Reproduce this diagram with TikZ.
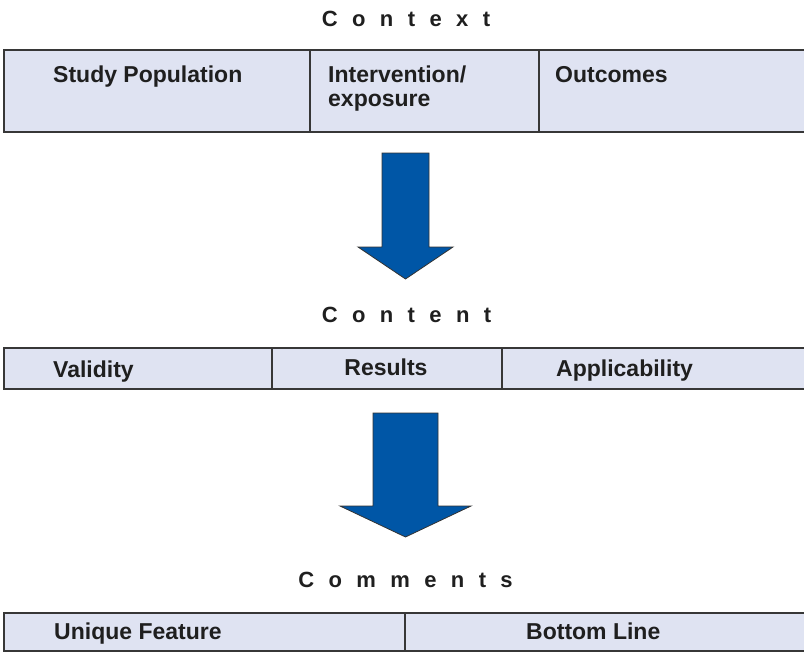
\documentclass[tikz,border=0pt]{standalone}
\usepackage{fontspec}
\setmainfont{Liberation Sans}
\definecolor{cellfill}{RGB}{223,227,242}
\definecolor{cellline}{RGB}{55,55,55}
\definecolor{arrowblue}{RGB}{0,86,166}
\newcommand{\lsp}{\hspace{14.4pt}}
\begin{document}
\begin{tikzpicture}[x=1pt,y=-1pt,
  celltext/.style={inner sep=0pt,font=\fontsize{23}{23}\selectfont\bfseries,text=black!88},
  titletext/.style={inner sep=0pt,font=\fontsize{22}{22}\selectfont\bfseries,text=black!88},
  tableline/.style={draw=cellline,line width=1.4pt},
  bigarrow/.style={fill=arrowblue,draw=black!80,line width=0.8pt,line join=miter}]
\useasboundingbox (0,0) rectangle (804,653);
% ---- Context ----
\node[titletext,anchor=base] (ctxtitle) at (406,26) {C\lsp o\lsp n\lsp t\lsp e\lsp x\lsp t};
\fill[cellfill] (4,50) rectangle (804,132);
\draw[tableline] (804,50) -- (4,50) -- (4,132) -- (804,132);
\draw[tableline] (310,50) -- (310,132);
\draw[tableline] (539,50) -- (539,132);
\node[celltext,anchor=base west] (studypop) at (53,82) {Study Population};
\node[celltext,anchor=base west] (interv) at (328,82) {Intervention/};
\node[celltext,anchor=base west] (expo) at (328,106) {exposure};
\node[celltext,anchor=base west] (outc) at (555,82) {Outcomes};
% ---- Arrow 1 ----
\draw[bigarrow] (382,153) -- (429,153) -- (429,247) -- (453,247) -- (405.5,279) -- (358,247) -- (382,247) -- cycle;
% ---- Content ----
\node[titletext,anchor=base] (cnttitle) at (406.5,322) {C\lsp o\lsp n\lsp t\lsp e\lsp n\lsp t};
\fill[cellfill] (4,348) rectangle (804,389);
\draw[tableline] (804,348) -- (4,348) -- (4,389) -- (804,389);
\draw[tableline] (272,348) -- (272,389);
\draw[tableline] (502,348) -- (502,389);
\node[celltext,anchor=base west] (valid) at (53,377) {Validity};
\node[celltext,anchor=base] (results) at (386,375) {Results};
\node[celltext,anchor=base west] (applic) at (556,376) {Applicability};
% ---- Arrow 2 ----
\draw[bigarrow] (373,413) -- (438,413) -- (438,506) -- (471,506) -- (405.5,537) -- (340,506) -- (373,506) -- cycle;
% ---- Comments ----
\node[titletext,anchor=base] (cmttitle) at (405.5,587) {C\lsp o\lsp m\lsp m\lsp e\lsp n\lsp t\lsp s};
\fill[cellfill] (4,613) rectangle (804,651);
\draw[tableline] (804,613) -- (4,613) -- (4,651) -- (804,651);
\draw[tableline] (405,613) -- (405,651);
\node[celltext,anchor=base west] (unique) at (54,639) {Unique Feature};
\node[celltext,anchor=base west] (bottom) at (526,639) {Bottom Line};
\end{tikzpicture}
\end{document}
